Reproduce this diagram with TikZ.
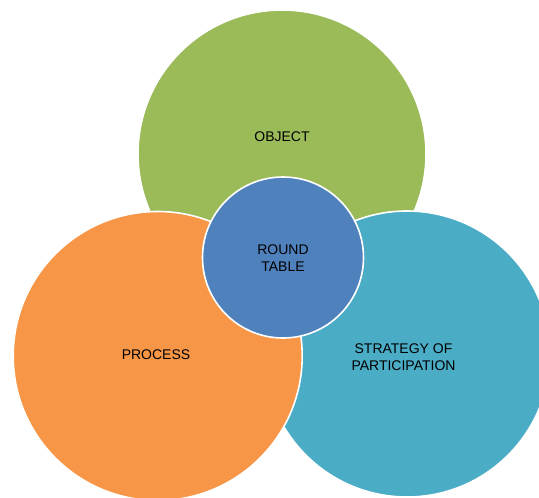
\documentclass[tikz,border=0pt]{standalone}
\usepackage{fontspec}
\setmainfont{Liberation Sans}
\usepackage{tikz}

\definecolor{objgreen}{HTML}{9BBB59}
\definecolor{procorange}{HTML}{F79646}
\definecolor{stratteal}{HTML}{4BACC6}
\definecolor{tableblue}{HTML}{4F81BD}

\begin{document}
\begin{tikzpicture}[x=1pt,y=-1pt,
  blob/.style={circle,draw=white,line width=1.6pt,inner sep=0pt,minimum size=#1},
  lbl/.style={font=\fontsize{14}{17}\selectfont,align=center,text=black}]

    \useasboundingbox (0,0) rectangle (539,498);

    % the three outer circles, back to front
    \node [blob=288pt,fill=objgreen] (object) at (282,154) {};
    \node [blob=286pt,fill=stratteal] (strategy) at (407,354) {};
    \node [blob=289pt,fill=procorange] (process) at (157.7,356) {};

    % the round table in the middle
    \node [blob=161pt,fill=tableblue] (table) at (283,257.5) {};

    % labels
    \node [lbl] (objecttext) at (282,137) {OBJECT};
    \node [lbl] (tabletext) at (283,258) {ROUND\\TABLE};
    \node [lbl] (processtext) at (156,355) {PROCESS};
    \node [lbl] (strategytext) at (403.5,357.5) {STRATEGY OF\\PARTICIPATION};

\end{tikzpicture}
\end{document}
